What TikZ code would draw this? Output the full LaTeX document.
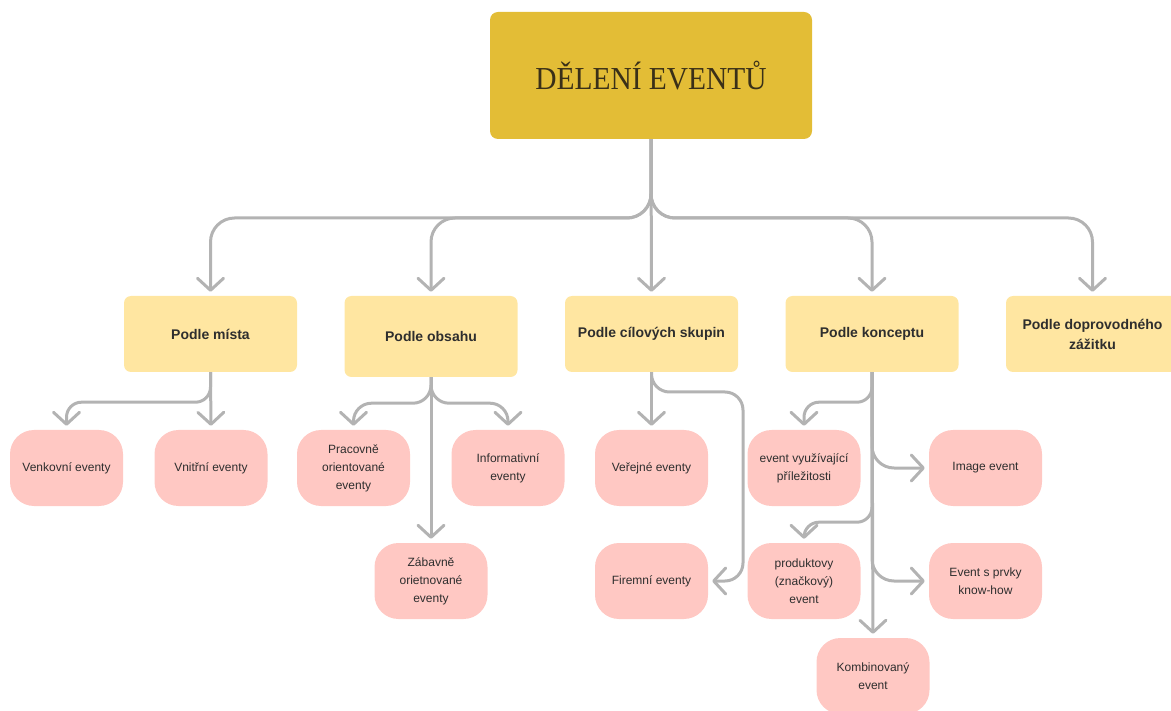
\documentclass[tikz,border=0pt]{standalone}
\usepackage{fontspec}
\setmainfont{Liberation Sans}
\newfontfamily\titlefont{Liberation Serif}
\usetikzlibrary{arrows.meta}
\definecolor{gold}{HTML}{E3BD36}
\definecolor{catfill}{HTML}{FFE6A1}
\definecolor{leaffill}{HTML}{FFC8C3}
\definecolor{linkgray}{HTML}{B3B3B3}
\definecolor{ink}{HTML}{2E2E2E}
\definecolor{titleink}{HTML}{3A3018}

\begin{document}
\begin{tikzpicture}[x=1pt,y=-1pt,
  titlebox/.style={fill=gold, rounded corners=8pt, minimum width=322pt,
    minimum height=127pt, inner sep=0pt, text=titleink},
  catbox/.style={fill=catfill, rounded corners=7pt, minimum width=173pt,
    minimum height=76pt, align=center, text=ink, inner sep=2pt,
    font=\fontsize{14}{20}\selectfont\bfseries},
  leafbox/.style={fill=leaffill, rounded corners=24pt, minimum width=113pt,
    minimum height=76pt, align=center, text=ink, inner sep=2pt,
    font=\fontsize{12}{18}\selectfont},
  conn/.style={draw=linkgray, line width=3pt, line join=round,
    -{Straight Barb[length=12pt,width=26pt,round]},
    shorten >=4pt, rounded corners=#1},
  conn/.default=22pt]

\clip (0,0) rectangle (1171,711);

% root
\node[titlebox] (top) at (651,75.5)
  {\titlefont\fontsize{32}{32}\selectfont\scalebox{0.92}[1]{DĚLENÍ EVENTŮ}};

% categories
\node[catbox] (c1) at (210.5,334) {Podle místa};
\node[catbox, minimum height=81pt] (c2) at (431,336.5) {Podle obsahu};
\node[catbox] (c3) at (651.5,334) {Podle cílových skupin};
\node[catbox] (c4) at (872,334) {Podle konceptu};
\node[catbox] (c5) at (1092.5,334) {Podle doprovodného\\zážitku};

% leaves
\node[leafbox] (venk) at (66.5,468) {Venkovní eventy};
\node[leafbox] (vnit) at (211,468) {Vnitřní eventy};
\node[leafbox] (prac) at (353.5,468) {Pracovně\\orientované\\eventy};
\node[leafbox] (info) at (508,468) {Informativní\\eventy};
\node[leafbox] (zab)  at (431,581) {Zábavně\\orietnované\\eventy};
\node[leafbox] (ver)  at (651.5,468) {Veřejné eventy};
\node[leafbox] (fir)  at (651.5,581) {Firemní eventy};
\node[leafbox] (vyuz) at (804,468) {event využívající\\příležitosti};
\node[leafbox] (img)  at (985.5,468) {Image event};
\node[leafbox] (prod) at (804,581) {produktovy\\(značkový)\\event};
\node[leafbox] (know) at (985.5,581) {Event s prvky\\know-how};
\node[leafbox] (komb) at (873,676) {Kombinovaný\\event};

% junction points
\coordinate (hub) at (651,218);
\coordinate (firturn) at (743,392);

% root to categories
\draw[conn=24pt] (top.south) -- (hub) -| (c1.north);
\draw[conn=24pt] (top.south) -- (hub) -| (c2.north);
\draw[conn] (top.south) -- (c3.north);
\draw[conn=24pt] (top.south) -- (hub) -| (c4.north);
\draw[conn=24pt] (top.south) -- (hub) -| (c5.north);

% Podle místa
\draw[conn=15pt] (c1.south) -- ++(0,30) -| (venk.north);
\draw[conn] (c1.south) -- (vnit.north);

% Podle obsahu
\draw[conn=18pt] (c2.south) -- ++(0,26) -| (prac.north);
\draw[conn=18pt] (c2.south) -- ++(0,26) -| (info.north);
\draw[conn] (c2.south) -- (zab.north);

% Podle cílových skupin
\draw[conn] (c3.south) -- (ver.north);
\draw[conn=18pt] (c3.south) |- (firturn) |- (fir.east);

% Podle konceptu
\draw[conn=15pt] (c4.south) -- ++(0,30) -| (vyuz.north);
\draw[conn=22pt] (c4.south) |- (img.west);
\draw[conn=15pt] (c4.south) -- ++(0,150) -| (prod.north);
\draw[conn=22pt] (c4.south) |- (know.west);
\draw[conn] (c4.south) -- (komb.north);
\end{tikzpicture}
\end{document}
